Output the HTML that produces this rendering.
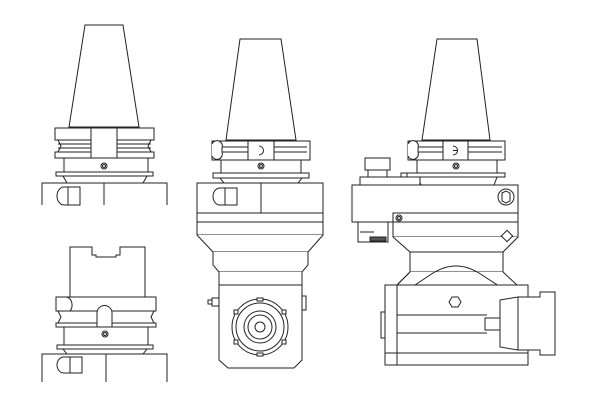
<!DOCTYPE html>
<html><head><style>html,body{margin:0;padding:0;background:#fff;width:600px;height:402px;overflow:hidden}</style></head>
<body>
<svg width="600" height="402" viewBox="0 0 600 402" xmlns="http://www.w3.org/2000/svg" fill="#fff" stroke="#222" stroke-width="1">
<!-- Drawing 1 -->
<g>
<path d="M85,25 L123,25 L139,127 L69,127 Z"/>
<rect x="55" y="128" width="99" height="12"/>
<path d="M58,140 L151,140 L148,146 L151,152 L58,152 L61,146 Z"/>
<rect x="55" y="152" width="99" height="6"/>
<line x1="58" y1="144" x2="151" y2="144"/><line x1="58" y1="148" x2="151" y2="148"/>
<rect x="91" y="128" width="26" height="30"/>
<rect x="64" y="158" width="84" height="14"/>
<circle cx="104" cy="166" r="3"/><circle cx="104" cy="166" r="1.5"/>
<rect x="56" y="172" width="97" height="4"/>
<path d="M63,176 L147,176 L143,183 L67,183 Z"/>
<path d="M42,205 L42,183 L167,183 L167,205"/>
<line x1="104" y1="183" x2="104" y2="205"/>
<path d="M68,187 L64,187 A7,9 0 0 0 64,205 L68,205"/>
<rect x="68" y="187" width="12" height="18"/>
</g>
<!-- Drawing 4 -->
<g>
<path d="M70,247 L92,247 L92,255 L96,255 L96,257 L116,257 L116,255 L120,255 L120,247 L145,247 L145,297 L70,297 Z"/>
<rect x="56" y="297" width="100" height="14"/>
<path d="M58,311 L154,311 L151,317 L154,323 L58,323 L61,317 Z"/>
<rect x="56" y="323" width="100" height="4"/>
<path d="M97,327 L97,313 A7.5,7.5 0 0 1 112,313 L112,327"/>
<path d="M66,297 A6,8 0 0 1 70,311"/>
<rect x="64" y="327" width="84" height="18"/>
<circle cx="105" cy="334" r="3"/><circle cx="105" cy="334" r="1.5"/>
<rect x="57" y="345" width="96" height="4"/>
<path d="M63,349 L147,349 L143,354 L67,354 Z"/>
<path d="M42,382 L42,354 L167,354 L167,382"/>
<line x1="106" y1="354" x2="106" y2="382"/>
<path d="M70,357 L64,357 A7,8 0 0 0 64,373 L70,373"/>
<rect x="70" y="357" width="12" height="16"/>
</g>
<!-- Drawing 2 -->
<g>
<path d="M240,39 L281,39 L296,140 L226,140 Z"/>
<rect x="212" y="141" width="98" height="19"/>
<line x1="215" y1="147" x2="307" y2="147"/><line x1="215" y1="152" x2="307" y2="152"/>
<path d="M212,144 A4,4 0 0 1 222,148 L222,152 A4,4 0 0 1 212,156"/>
<rect x="248" y="141" width="26" height="19"/>
<path d="M259,146 A4,4 0 0 1 259,155"/>
<rect x="221" y="160" width="80" height="13"/>
<circle cx="261" cy="166" r="3"/><circle cx="261" cy="166" r="1.5"/>
<rect x="213" y="173" width="96" height="5"/>
<path d="M220,178 L302,178 L298,183 L224,183 Z"/>
<rect x="197" y="183" width="126" height="52"/>
<line x1="197" y1="213" x2="323" y2="213"/><line x1="197" y1="222" x2="323" y2="222"/>
<line x1="261" y1="183" x2="261" y2="213"/>
<path d="M225,188 L220,188 A7,8.5 0 0 0 220,205 L225,205"/>
<rect x="225" y="188" width="12" height="17"/>
<path d="M197,235 L213,252 L308,252 L323,235"/>
<path d="M213,252 L213,265 L219,272 L302,272 L308,265 L308,252"/>
<path d="M219,272 L219,360 L228,368 L294,368 L302,360 L302,272"/>
<line x1="219" y1="285" x2="302" y2="285"/>
<circle cx="260" cy="327" r="28"/><circle cx="260" cy="327" r="24"/>
<circle cx="260" cy="327" r="16"/><circle cx="260" cy="327" r="12"/><circle cx="260" cy="327" r="5"/>
<rect x="257" y="298" width="6" height="3"/><rect x="257" y="353" width="6" height="3"/>
<rect x="234" y="310" width="4" height="4"/><rect x="282" y="310" width="4" height="4"/>
<rect x="234" y="340" width="4" height="4"/><rect x="282" y="340" width="4" height="4"/>
<rect x="212" y="298" width="7" height="8"/><rect x="208" y="300" width="4" height="4"/>
<rect x="302" y="296" width="4" height="14"/>
</g>
<!-- Drawing 3 -->
<g>
<path d="M437,39 L477,39 L490,140 L422,140 Z"/>
<rect x="408" y="141" width="97" height="19"/>
<line x1="411" y1="147" x2="502" y2="147"/><line x1="411" y1="152" x2="502" y2="152"/>
<path d="M408,144 A4,4 0 0 1 418,148 L418,152 A4,4 0 0 1 408,156"/>
<rect x="443" y="141" width="25" height="19"/>
<path d="M453,146 A4,4 0 0 1 453,155 M453,150.5 L457,150.5"/>
<rect x="417" y="160" width="80" height="13"/>
<circle cx="456" cy="166" r="3"/><circle cx="456" cy="166" r="1.5"/>
<rect x="407" y="173" width="98" height="4"/>
<path d="M418,177 L497,177 L494,185 L421,185 Z"/>
<rect x="401" y="173" width="6" height="7"/>
<path d="M365,158 L390,158 L390,170 L365,170 Z"/>
<path d="M368,170 L387,170 L387,177 L368,177 Z"/>
<rect x="360" y="177" width="60" height="8"/>
<rect x="352" y="185" width="166" height="37"/>
<rect x="393" y="213" width="125" height="24"/>
<line x1="393" y1="222" x2="518" y2="222"/>
<circle cx="506" cy="197" r="8"/><path d="M502,193 L506,191 L510,193 L510,201 L506,203 L502,201 Z"/>
<circle cx="399" cy="218" r="3"/><circle cx="399" cy="218" r="1.5"/>
<rect x="358" y="222" width="30" height="20"/>
<line x1="360" y1="232" x2="374" y2="232"/>
<rect x="370" y="237" width="16" height="4" fill="#555"/>
<path d="M393,237 L410,252 L503,252 L518,237"/>
<rect x="503" y="232" width="8" height="8" transform="rotate(45 507 236)"/>
<rect x="410" y="252" width="93" height="20"/>
<path d="M410,272 L397,285 L517,285 L503,272"/>
<path d="M410,272 L397,285" />
<path d="M397,297 L430,275 Q456,257 482,275 L516,297" fill="none"/>
<rect x="385" y="285" width="143" height="80"/>
<line x1="397" y1="285" x2="397" y2="365"/>
<line x1="385" y1="353" x2="528" y2="353"/>
<path d="M449,302 L452,297 L458,297 L461,302 L458,307 L452,307 Z"/>
<line x1="397" y1="315" x2="487" y2="315"/><line x1="397" y1="333" x2="487" y2="333"/>
<rect x="381" y="312" width="4" height="26"/>
<rect x="485" y="318" width="15" height="12"/>
<path d="M500,300 L518,297 L540,297 L540,292 L555,292 L555,355 L540,355 L540,350 L518,350 L500,347 Z"/>
<line x1="518" y1="297" x2="518" y2="350"/>
</g>
</svg>
</body></html>
